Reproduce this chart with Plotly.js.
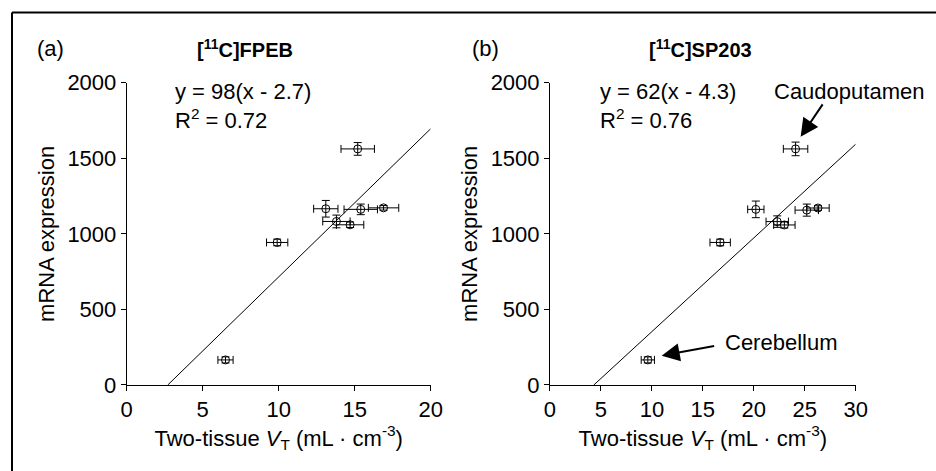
<!DOCTYPE html>
<html>
<head>
<meta charset="utf-8">
<script src="https://cdn.plot.ly/plotly-3.0.1.min.js"></script>
<style>html,body{margin:0;padding:0;background:#fff;}#chart{width:936px;height:471px;}</style>
</head>
<body>
<div id="chart"></div>
<script>
// ---- data ----
const fpebVT      = [15.2, 13.1, 15.4, 16.9, 13.8, 14.7, 9.9, 6.5];
const fpebVTerr   = [1.1, 0.8, 1.1, 1.0, 0.9, 0.9, 0.7, 0.5];
const fpebMRNA    = [1562, 1166, 1162, 1172, 1082, 1060, 943, 166];
const fpebMRNAerr = [42, 55, 35, 15, 42, 18, 22, 20];

const sp203VT      = [24.1, 20.2, 25.2, 26.3, 22.3, 23.0, 16.7, 9.6];
const sp203VTerr   = [1.2, 0.8, 1.15, 1.1, 1.1, 1.05, 1.0, 0.65];
const sp203MRNA    = [1562, 1162, 1157, 1171, 1081, 1059, 943, 166];
const sp203MRNAerr = [45, 55, 40, 15, 38, 20, 22, 20];

const fitAx = [2.7, 20];   const fitAy = [0, 1695];   // y = 98(x - 2.7)
const fitBx = [4.3, 30];   const fitBy = [0, 1593];   // y = 62(x - 4.3)

const xTicksA = [0, 5, 10, 15, 20];
const xTicksB = [0, 5, 10, 15, 20, 25, 30];
const yTicks  = [0, 500, 1000, 1500, 2000];

const FONT = 'Liberation Sans, Arial, Helvetica, sans-serif';
const FS = 22;   // text size
const TS = 22;   // tick size

function pts(x, xe, y, ye, xa, ya) {
  return {
    x: x, y: y, xaxis: xa, yaxis: ya, type: 'scatter', mode: 'markers',
    marker: {symbol: 'circle-open', size: 8, color: '#000', line: {width: 1, color: '#000'}},
    error_x: {type: 'data', array: xe, visible: true, color: '#000', thickness: 1, width: 4},
    error_y: {type: 'data', array: ye, visible: true, color: '#000', thickness: 1, width: 4},
    showlegend: false, hoverinfo: 'x+y'
  };
}
function fit(x, y, xa, ya) {
  return {x: x, y: y, xaxis: xa, yaxis: ya, type: 'scatter', mode: 'lines',
    line: {color: '#000', width: 1}, showlegend: false, hoverinfo: 'skip'};
}

const data = [
  fit(fitAx, fitAy, 'x', 'y'),
  pts(fpebVT, fpebVTerr, fpebMRNA, fpebMRNAerr, 'x', 'y'),
  fit(fitBx, fitBy, 'x2', 'y2'),
  pts(sp203VT, sp203VTerr, sp203MRNA, sp203MRNAerr, 'x2', 'y2')
];

const xTitle = 'Two-tissue <i>V</i><sub>T</sub> (mL · cm<sup>-3</sup>)';

function xAxis(dom, rng, ticks, anchor) {
  return {domain: dom, range: rng, anchor: anchor, tickvals: ticks, ticktext: ticks.map(String),
    showline: true, linecolor: '#000', linewidth: 1, ticks: 'outside', ticklen: 5, tickwidth: 1,
    tickcolor: '#000', showgrid: false, zeroline: false, tickfont: {family: FONT, size: TS, color: '#000'},
    title: {text: xTitle, font: {family: FONT, size: FS, color: '#000'}, standoff: 4}};
}
function yAxis(rng, anchor) {
  return {domain: [0.1826, 0.8244], range: rng, anchor: anchor, tickvals: yTicks, ticktext: yTicks.map(String),
    showline: true, linecolor: '#000', linewidth: 1, ticks: 'outside', ticklen: 5, tickwidth: 1,
    tickcolor: '#000', showgrid: false, zeroline: false, tickfont: {family: FONT, size: TS, color: '#000'},
    title: {text: 'mRNA expression', font: {family: FONT, size: FS, color: '#000'}, standoff: 6}};
}

const tf = {family: FONT, size: FS, color: '#000'};
const bf = {family: FONT, size: 20, color: '#000'};
const annotations = [
  {xref: 'paper', yref: 'paper', x: 35/936, y: 1 - 49/471, xanchor: 'left', yanchor: 'middle', text: '(a)', showarrow: false, font: tf},
  {xref: 'paper', yref: 'paper', x: 245/936, y: 1 - 49/471, xanchor: 'center', yanchor: 'middle', text: '<b>[<sup>11</sup>C]FPEB</b>', showarrow: false, font: bf},
  {xref: 'paper', yref: 'paper', x: 470/936, y: 1 - 49/471, xanchor: 'left', yanchor: 'middle', text: '(b)', showarrow: false, font: tf},
  {xref: 'paper', yref: 'paper', x: 700/936, y: 1 - 49/471, xanchor: 'center', yanchor: 'middle', text: '<b>[<sup>11</sup>C]SP203</b>', showarrow: false, font: bf},
  {xref: 'x', yref: 'y', x: 3.05, y: 1940, xanchor: 'left', yanchor: 'middle', text: 'y = 98(x - 2.7)', showarrow: false, font: tf},
  {xref: 'x', yref: 'y', x: 3.05, y: 1758, xanchor: 'left', yanchor: 'middle', text: 'R<sup>2</sup> = 0.72', showarrow: false, font: tf},
  {xref: 'x2', yref: 'y2', x: 4.74, y: 1940, xanchor: 'left', yanchor: 'middle', text: 'y = 62(x - 4.3)', showarrow: false, font: tf},
  {xref: 'x2', yref: 'y2', x: 4.74, y: 1758, xanchor: 'left', yanchor: 'middle', text: 'R<sup>2</sup> = 0.76', showarrow: false, font: tf},
  {xref: 'x2', yref: 'y2', x: 21.75, y: 1941, xanchor: 'left', yanchor: 'middle', text: 'Caudoputamen', showarrow: false, font: tf},
  {xref: 'x2', yref: 'y2', x: 17.0, y: 278, xanchor: 'left', yanchor: 'middle', text: 'Cerebellum', showarrow: false, font: tf},
  {xref: 'x2', yref: 'y2', x: 24.6, y: 1642, ax: 23, ay: -34, text: '', showarrow: true, arrowhead: 2, arrowsize: 1.8, arrowwidth: 2, arrowcolor: '#000', standoff: 0, startstandoff: 0},
  {xref: 'x2', yref: 'y2', x: 10.96, y: 194, ax: 54, ay: -10, text: '', showarrow: true, arrowhead: 2, arrowsize: 1.8, arrowwidth: 2, arrowcolor: '#000', standoff: 0, startstandoff: 0}
];

const layout = {
  width: 936, height: 471, margin: {l: 0, r: 0, t: 0, b: 0},
  paper_bgcolor: '#fff', plot_bgcolor: 'rgba(0,0,0,0)',
  font: {family: FONT, size: FS, color: '#000'},
  xaxis: xAxis([0.1354, 0.4601], [0, 20], xTicksA, 'y'),
  yaxis: yAxis([0, 2000], 'x'),
  xaxis2: xAxis([0.5876, 0.9142], [0, 30], xTicksB, 'y2'),
  yaxis2: yAxis([0, 2000], 'x2'),
  annotations: annotations,
  shapes: [
    {type: 'line', xref: 'paper', yref: 'paper', x0: 12/936, x1: 1, y0: 1 - 12.5/471, y1: 1 - 12.5/471, line: {color: '#000', width: 2}},
    {type: 'line', xref: 'paper', yref: 'paper', x0: 12/936, x1: 12/936, y0: 1 - 12.5/471, y1: 0, line: {color: '#000', width: 2}}
  ],
  showlegend: false
};

Plotly.newPlot('chart', data, layout, {displayModeBar: false, staticPlot: true});
</script>
</body>
</html>
